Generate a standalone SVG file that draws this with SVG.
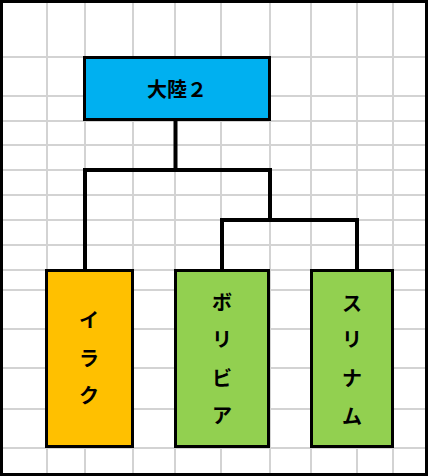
<svg xmlns="http://www.w3.org/2000/svg" width="428" height="476" viewBox="0 0 428 476">
<style>
.grid line{stroke:#d3d3d3;stroke-width:2}
.box{stroke:#000;stroke-width:3}
.conn{fill:none;stroke:#000;stroke-width:4;stroke-linejoin:miter}
text{font-family:"Noto Sans CJK JP","Noto Sans",sans-serif;font-size:20px;fill:#000;text-anchor:middle;dominant-baseline:central;font-weight:bold}
</style>
<rect x="0" y="0" width="428" height="476" fill="#fff"/>
<g class="grid">
<line x1="47" y1="0" x2="47" y2="476"/>
<line x1="85" y1="0" x2="85" y2="476"/>
<line x1="133" y1="0" x2="133" y2="476"/>
<line x1="175" y1="0" x2="175" y2="476"/>
<line x1="221" y1="0" x2="221" y2="476"/>
<line x1="270" y1="0" x2="270" y2="476"/>
<line x1="311" y1="0" x2="311" y2="476"/>
<line x1="357" y1="0" x2="357" y2="476"/>
<line x1="393" y1="0" x2="393" y2="476"/>
<line x1="0" y1="57" x2="428" y2="57"/>
<line x1="0" y1="96" x2="428" y2="96"/>
<line x1="0" y1="121" x2="428" y2="121"/>
<line x1="0" y1="145" x2="428" y2="145"/>
<line x1="0" y1="170" x2="428" y2="170"/>
<line x1="0" y1="195" x2="428" y2="195"/>
<line x1="0" y1="220" x2="428" y2="220"/>
<line x1="0" y1="245" x2="428" y2="245"/>
<line x1="0" y1="270" x2="428" y2="270"/>
<line x1="0" y1="290" x2="428" y2="290"/>
<line x1="0" y1="329" x2="428" y2="329"/>
<line x1="0" y1="368" x2="428" y2="368"/>
<line x1="0" y1="409" x2="428" y2="409"/>
<line x1="0" y1="448" x2="428" y2="448"/>
</g>
<rect x="1.5" y="1.5" width="425" height="473" fill="none" stroke="#000" stroke-width="3"/>
<g id="connectors">
<path class="conn" d="M175.5,120 V170 M85,270 V170 H270 V220 M222,270 V220 H357 V270"/>
</g>
<g id="node-tairiku2">
<rect class="box" x="84.5" y="57.5" width="185" height="62" fill="#00b0f0"/>
<text x="177" y="88">大陸２</text>
</g>
<g id="node-iraku">
<rect class="box" x="46.5" y="270.5" width="86" height="176" fill="#ffc000"/>
<text x="89" y="319">イ</text>
<text x="89" y="357">ラ</text>
<text x="89" y="394">ク</text>
</g>
<g id="node-boribia">
<rect class="box" x="175.5" y="270.5" width="93" height="176" fill="#92d050"/>
<text x="222" y="301">ボ</text>
<text x="222" y="338">リ</text>
<text x="222" y="377">ビ</text>
<text x="222" y="414">ア</text>
</g>
<g id="node-surinamu">
<rect class="box" x="311.5" y="270.5" width="81" height="176" fill="#92d050"/>
<text x="352" y="302">ス</text>
<text x="352" y="338">リ</text>
<text x="352" y="377">ナ</text>
<text x="352" y="415">ム</text>
</g>
</svg>
